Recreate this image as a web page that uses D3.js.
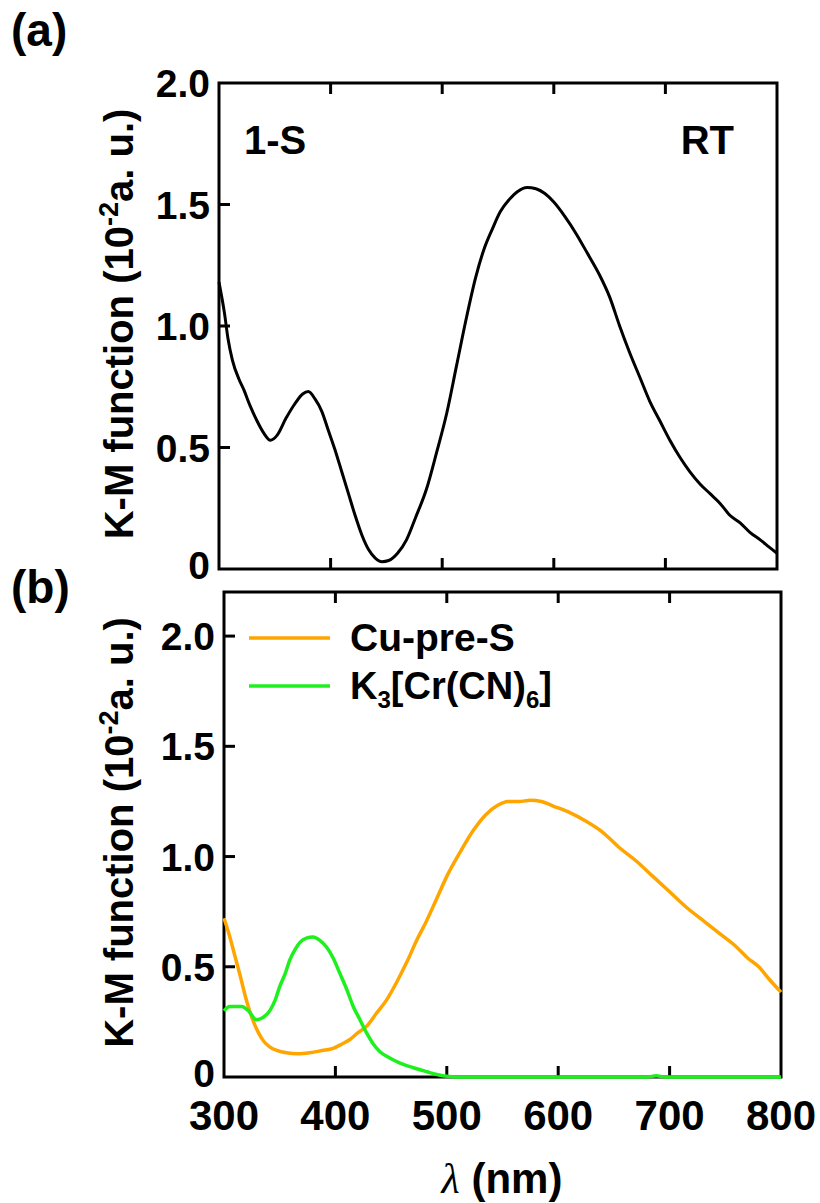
<!DOCTYPE html>
<html>
<head>
<meta charset="utf-8">
<script src="https://cdn.jsdelivr.net/npm/d3@7"></script>
<style>
  body { margin: 0; background: #fff; }
  svg { display: block; font-family: 'Liberation Sans', Arial, sans-serif; font-weight: bold; }
</style>
</head>
<body>
<svg id="chart" width="820" height="1203"></svg>
<script>
// panel (a): 1-S at RT
const wlA = [300, 305, 308, 312, 318, 322, 328, 334, 340, 346, 352, 360, 368, 375, 380, 386, 392, 398, 404, 410, 416, 422, 428, 434, 440, 446, 452, 460, 468, 476, 486, 495, 504, 513, 522, 530, 537, 545, 552, 560, 568, 576, 584, 592, 600, 610, 620, 630, 641, 650, 659, 668, 677, 686, 695, 704, 713, 722, 731, 740, 749, 758, 767, 776, 785, 793, 800];
const kmA = [1.18, 1.05, 0.95, 0.86, 0.78, 0.74, 0.67, 0.61, 0.56, 0.53, 0.55, 0.62, 0.68, 0.72, 0.73, 0.70, 0.65, 0.57, 0.49, 0.40, 0.31, 0.22, 0.14, 0.08, 0.045, 0.03, 0.035, 0.065, 0.12, 0.21, 0.33, 0.48, 0.64, 0.84, 1.04, 1.20, 1.31, 1.40, 1.47, 1.52, 1.555, 1.57, 1.565, 1.545, 1.51, 1.45, 1.38, 1.30, 1.21, 1.12, 1.00, 0.89, 0.79, 0.69, 0.61, 0.53, 0.46, 0.40, 0.35, 0.31, 0.27, 0.22, 0.19, 0.15, 0.12, 0.09, 0.065];

// panel (b): Cu-pre-S
const wlCu = [300, 305, 310, 315, 320, 325, 331, 336, 341, 348, 356, 366, 377, 388, 398, 406, 413, 420, 428, 437, 446, 455, 464, 473, 482, 491, 500, 512, 524, 535, 545, 555, 565, 575, 585, 595, 610, 625, 640, 655, 670, 685, 700, 715, 730, 745, 760, 770, 780, 790, 800];
const kmCu = [0.72, 0.64, 0.545, 0.45, 0.35, 0.27, 0.20, 0.16, 0.137, 0.12, 0.11, 0.105, 0.11, 0.12, 0.13, 0.15, 0.17, 0.20, 0.23, 0.29, 0.35, 0.43, 0.52, 0.62, 0.71, 0.81, 0.91, 1.02, 1.12, 1.19, 1.23, 1.25, 1.25, 1.255, 1.25, 1.23, 1.20, 1.16, 1.11, 1.04, 0.98, 0.91, 0.84, 0.77, 0.71, 0.65, 0.59, 0.54, 0.50, 0.44, 0.385];

// panel (b): K3[Cr(CN)6]
const wlCr = [300, 305, 310, 316, 322, 329, 335, 341, 346, 350, 355, 359, 364, 368, 374, 380, 386, 392, 398, 404, 410, 416, 422, 428, 434, 440, 448, 458, 470, 482, 492, 500, 510, 600, 680, 688, 696, 800];
const kmCr = [0.30, 0.32, 0.32, 0.32, 0.30, 0.26, 0.27, 0.30, 0.35, 0.41, 0.47, 0.53, 0.58, 0.61, 0.63, 0.635, 0.62, 0.59, 0.54, 0.47, 0.40, 0.32, 0.26, 0.20, 0.15, 0.115, 0.088, 0.063, 0.042, 0.024, 0.010, 0.003, 0, 0, 0, 0.006, 0, 0];

const xTicks = [300, 400, 500, 600, 700, 800];
const yTicksA = [0, 0.5, 1.0, 1.5, 2.0];
const yTicksB = [0, 0.5, 1.0, 1.5, 2.0];

const orange = '#FFA500';
const green = '#1EF01E';

const svg = d3.select('#chart');

const panels = [
  { left: 219, right: 777, top: 83, bottom: 569, yMax: 2.0, yTicks: yTicksA, letter: '(a)', letterY: 46 },
  { left: 224, right: 781, top: 592, bottom: 1077, yMax: 2.2, yTicks: yTicksB, letter: '(b)', letterY: 603 },
];

const fmt = (d) => (d === 0 ? '0' : d3.format('.1f')(d));

panels.forEach((p) => {
  p.x = d3.scaleLinear().domain([300, 800]).range([p.left, p.right]);
  p.y = d3.scaleLinear().domain([0, p.yMax]).range([p.bottom, p.top]);
  const g = svg.append('g');

  // inner ticks, bottom + top
  const inner = xTicks.slice(1, -1);
  g.selectAll('.tb').data(inner).join('line')
    .attr('x1', (d) => p.x(d)).attr('x2', (d) => p.x(d))
    .attr('y1', p.bottom).attr('y2', p.bottom - 11)
    .attr('stroke', '#000').attr('stroke-width', 3);
  g.selectAll('.tt').data(inner).join('line')
    .attr('x1', (d) => p.x(d)).attr('x2', (d) => p.x(d))
    .attr('y1', p.top).attr('y2', p.top + 11)
    .attr('stroke', '#000').attr('stroke-width', 3);
  // y ticks
  g.selectAll('.ty').data(p.yTicks.filter((d) => d > 0 && d < p.yMax)).join('line')
    .attr('x1', p.left).attr('x2', p.left + 11)
    .attr('y1', (d) => p.y(d)).attr('y2', (d) => p.y(d))
    .attr('stroke', '#000').attr('stroke-width', 3);
  g.selectAll('.yl').data(p.yTicks).join('text')
    .attr('x', p.left - 9).attr('y', (d) => p.y(d) + (d === 0 ? 10 : 14))
    .attr('text-anchor', 'end').attr('font-size', 39)
    .text(fmt);

  // frame
  g.append('rect')
    .attr('x', p.left).attr('y', p.top)
    .attr('width', p.right - p.left).attr('height', p.bottom - p.top)
    .attr('fill', 'none').attr('stroke', '#000').attr('stroke-width', 3);

  // y title
  const t = g.append('text')
    .attr('transform', `translate(133,${(p.top + p.bottom) / 2 - 2}) rotate(-90)`)
    .attr('text-anchor', 'middle').attr('font-size', 40);
  t.append('tspan').text('K-M function (10');
  t.append('tspan').attr('dy', -15).attr('font-size', 27).text('-2');
  t.append('tspan').attr('dy', 15).text('a. u.)');

  g.append('text').attr('x', 11).attr('y', p.letterY)
    .attr('font-size', 46).text(p.letter);
});

const line = (p) => d3.line().x((d) => p.x(d[0])).y((d) => p.y(d[1])).curve(d3.curveMonotoneX);

const pa = panels[0];
svg.append('path').datum(d3.zip(wlA, kmA))
  .attr('d', line(pa)).attr('fill', 'none').attr('stroke', '#000').attr('stroke-width', 3);
svg.append('text').attr('x', 244).attr('y', 154).attr('font-size', 40).text('1-S');
svg.append('text').attr('x', 734).attr('y', 154).attr('font-size', 40).attr('text-anchor', 'end').text('RT');

const pb = panels[1];
svg.append('path').datum(d3.zip(wlCu, kmCu))
  .attr('d', line(pb)).attr('fill', 'none').attr('stroke', orange).attr('stroke-width', 3.5);
svg.append('path').datum(d3.zip(wlCr, kmCr))
  .attr('d', line(pb)).attr('fill', 'none').attr('stroke', green).attr('stroke-width', 3.5);

// x tick labels
svg.selectAll('.xl').data(xTicks).join('text')
  .attr('x', (d) => pb.x(d)).attr('y', 1130)
  .attr('text-anchor', 'middle').attr('font-size', 42)
  .text((d) => d);

// x title
const xt = svg.append('text').attr('x', 502).attr('y', 1193).attr('text-anchor', 'middle').attr('font-size', 42);
xt.append('tspan').attr('font-family', "'Liberation Serif', serif").attr('font-style', 'italic').attr('font-weight', 'normal').text('λ');
xt.append('tspan').text(' (nm)');

// legend
const legend = svg.append('g');
legend.append('line').attr('x1', 249).attr('x2', 330).attr('y1', 638).attr('y2', 638)
  .attr('stroke', orange).attr('stroke-width', 3.5);
legend.append('text').attr('x', 350).attr('y', 651).attr('font-size', 39).text('Cu-pre-S');
legend.append('line').attr('x1', 249).attr('x2', 330).attr('y1', 686).attr('y2', 686)
  .attr('stroke', green).attr('stroke-width', 3.5);
const lk = legend.append('text').attr('x', 350).attr('y', 699).attr('font-size', 38);
lk.append('tspan').text('K');
lk.append('tspan').attr('dy', 9).attr('font-size', 24).text('3');
lk.append('tspan').attr('dy', -9).text('[Cr(CN)');
lk.append('tspan').attr('dy', 9).attr('font-size', 24).text('6');
lk.append('tspan').attr('dy', -9).text(']');
</script>
</body>
</html>
